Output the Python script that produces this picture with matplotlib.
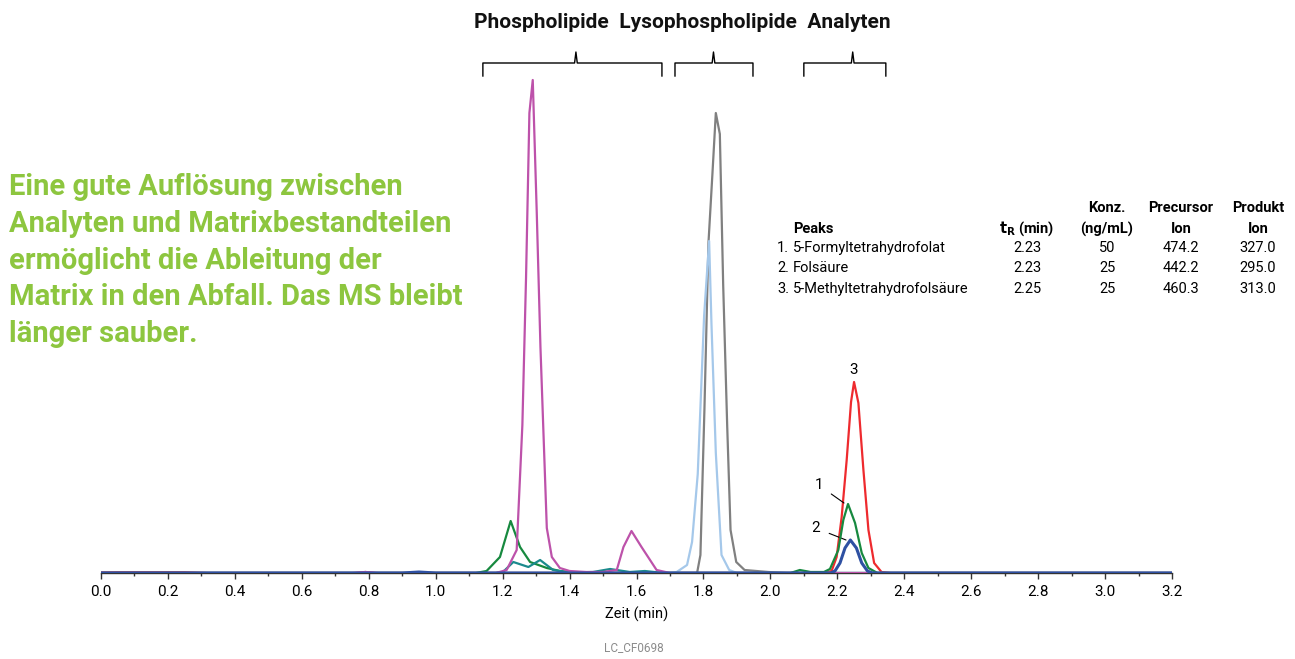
import matplotlib.pyplot as plt

# ==================== Daten (Retentionszeit in min, Intensität relativ) ====================
# Phospholipide (magenta)
t_phospho = [0.00, 0.75, 0.79, 0.83, 0.92, 0.95, 0.98, 1.18, 1.212, 1.242, 1.259, 1.270, 1.280,
             1.290, 1.302, 1.313, 1.332, 1.347, 1.371, 1.40, 1.45, 1.50, 1.541, 1.561,
             1.585, 1.615, 1.660, 1.70, 3.20]
i_phospho = [0, 0, 1, 0, 0, 0.8, 0, 0, 3, 23, 148, 296, 460,
             493, 360, 226, 45, 16, 5, 2, 1, 1, 3, 26,
             42, 26, 3, 0, 0]

# Lysophospholipide (grau)
t_lyso = [0.00, 1.760, 1.781, 1.791, 1.803, 1.815, 1.827, 1.837, 1.849, 1.859, 1.871,
          1.881, 1.898, 1.923, 1.994, 2.05, 3.20]
i_lyso = [0, 0, 0, 18, 164, 330, 400, 460, 439, 288, 147,
          43, 11, 3, 1, 0, 0]

# Lysophospholipide (hellblau)
t_lyso2 = [0.00, 1.700, 1.720, 1.751, 1.766, 1.783, 1.802, 1.817, 1.824, 1.837, 1.854,
           1.877, 1.900, 3.20]
i_lyso2 = [0, 0, 1, 8, 31, 99, 257, 332, 249, 120, 18,
           3, 0, 0]

# Matrix (grün) + Peak 1: 5-Formyltetrahydrofolat
t_green = [0.00, 1.120, 1.152, 1.192, 1.224, 1.252, 1.282, 1.332, 1.371, 1.42, 1.50,
           2.060, 2.088, 2.120, 2.160, 2.178, 2.203, 2.218, 2.232, 2.253, 2.273,
           2.293, 2.320, 3.20]
i_green = [0, 0, 2, 16, 52, 26, 11, 5, 2, 0.5, 0,
           0, 3, 1, 1, 4, 23, 53, 69, 50, 20,
           5, 0, 0]

# Matrix (petrol)
t_teal = [0.00, 1.180, 1.201, 1.232, 1.277, 1.312, 1.351, 1.40, 1.470, 1.521, 1.580,
          1.625, 1.680, 3.20]
i_teal = [0, 0, 1, 11, 6, 13, 3, 0.5, 1, 4, 1,
          2, 0, 0]

# Peak 3: 5-Methyltetrahydrofolsäure (rot)
t_red = [0.00, 0.05, 0.15, 0.25, 0.32, 0.76, 0.79, 0.82, 2.160, 2.183, 2.198, 2.213,
         2.228, 2.241, 2.250, 2.263, 2.278, 2.293, 2.310, 2.332, 2.36, 3.20]
i_red = [0.6, 0.8, 0.8, 0.8, 0, 0, 1, 0, 0, 2, 16, 56,
         113, 171, 191, 170, 103, 43, 10, 1, 0, 0]

# Peak 2: Folsäure (blau)
t_blue = [0.00, 0.90, 0.95, 1.00, 2.180, 2.193, 2.208, 2.223, 2.239, 2.257, 2.273,
          2.290, 2.305, 3.20]
i_blue = [0, 0, 1.0, 0, 0, 2, 10, 25, 33, 25, 10,
          2, 0, 0]

# Klammern über den Peakgruppen (Start, Mitte, Ende in min)
brackets = [(1.141, 1.419, 1.676), (1.715, 1.830, 1.948), (2.100, 2.246, 2.345)]

# Peak-Tabelle
peak_names = ['5-Formyltetrahydrofolat', 'Folsäure', '5-Methyltetrahydrofolsäure']
t_r = ['2.23', '2.23', '2.25']
konz = ['50', '25', '25']
precursor = ['474.2', '442.2', '460.3']
produkt = ['327.0', '295.0', '313.0']

# ==================== Plot ====================
plt.rcParams['font.family'] = ['Roboto', 'DejaVu Sans']
W, H = 1295, 659
fig = plt.figure(figsize=(W / 100, H / 100), dpi=100)
ax = fig.add_axes([101 / W, 86 / H, 1071 / W, 560 / H])

lw = 1.6
ax.plot(t_red, i_red, color='#EE2A2E', lw=lw, zorder=3)
ax.plot(t_lyso, i_lyso, color='#808080', lw=lw, zorder=3)
ax.plot(t_lyso2, i_lyso2, color='#A5C8EA', lw=lw, zorder=4)
ax.plot(t_green, i_green, color='#17893F', lw=lw, zorder=4)
ax.plot(t_teal, i_teal, color='#1A8A8C', lw=lw, zorder=4)
ax.plot(t_phospho, i_phospho, color='#BD52AA', lw=lw, zorder=5)
ax.plot(t_blue, i_blue, color='#2E50A2', lw=2.2, zorder=6)

ax.set_xlim(0, 3.2)
ax.set_ylim(0, 560)
for s in ['left', 'right', 'top']:
    ax.spines[s].set_visible(False)
ax.spines['bottom'].set_color('#333333')
ax.spines['bottom'].set_linewidth(1.0)
ax.set_yticks([])
ax.set_xticks([i * 0.2 for i in range(17)])
ax.set_xticklabels([f'{i * 0.2:.1f}' for i in range(17)], fontsize=11)
ax.set_xticks([i * 0.1 for i in range(33)], minor=True)
ax.tick_params(axis='x', which='major', length=4, width=1, pad=5, color='#333333')
ax.tick_params(axis='x', which='minor', length=2.5, width=1, color='#333333')
ax.set_xlabel('Zeit (min)', fontsize=10.5, labelpad=5)

# Peak-Nummern
ax.text(2.250, 196, '3', ha='center', va='bottom', fontsize=11)
ax.annotate('1', xy=(2.220, 70), xytext=(2.144, 88), ha='center', va='center',
            fontsize=11, arrowprops=dict(arrowstyle='-', color='black', lw=0.8,
                                         shrinkA=5, shrinkB=0))
ax.annotate('2', xy=(2.226, 33), xytext=(2.135, 45), ha='center', va='center',
            fontsize=11, arrowprops=dict(arrowstyle='-', color='black', lw=0.8,
                                         shrinkA=5, shrinkB=0))

# Klammern
for a, m, b in brackets:
    ax.plot([a, a, m - 0.004, m, m + 0.004, b, b], [497, 510, 510, 521, 510, 510, 497],
            color='black', lw=1.0, clip_on=False)

fig.text(682 / W, 1 - 22 / H, 'Phospholipide  Lysophospholipide  Analyten',
         ha='center', va='center', fontsize=15, fontweight='bold', color='#111111')

# Hinweistext
fig.text(9 / W, 1 - 173 / H,
         'Eine gute Auflösung zwischen\nAnalyten und Matrixbestandteilen\n'
         'ermöglicht die Ableitung der\nMatrix in den Abfall. Das MS bleibt\n'
         'länger sauber.',
         ha='left', va='top', fontsize=21, fontweight='bold', color='#8DC63F',
         linespacing=1.4)

# Tabelle
fs = 10.5
y_h1, y_h2 = 1 - 208 / H, 1 - 229 / H
rows_y = [1 - 248 / H, 1 - 268 / H, 1 - 289 / H]
fig.text(793 / W, y_h2, 'Peaks', ha='left', va='center', fontsize=fs, fontweight='bold')
fig.text(1027 / W, y_h2, r'$\mathbf{t_R}$ (min)', ha='center', va='center',
         fontsize=fs, fontweight='bold')
fig.text(1107 / W, y_h1, 'Konz.', ha='center', va='center', fontsize=fs, fontweight='bold')
fig.text(1107 / W, y_h2, '(ng/mL)', ha='center', va='center', fontsize=fs, fontweight='bold')
fig.text(1181 / W, y_h1, 'Precursor', ha='center', va='center', fontsize=fs, fontweight='bold')
fig.text(1181 / W, y_h2, 'Ion', ha='center', va='center', fontsize=fs, fontweight='bold')
fig.text(1258 / W, y_h1, 'Produkt', ha='center', va='center', fontsize=fs, fontweight='bold')
fig.text(1258 / W, y_h2, 'Ion', ha='center', va='center', fontsize=fs, fontweight='bold')
for k, y in enumerate(rows_y):
    fig.text(789 / W, y, f'{k + 1}.', ha='right', va='center', fontsize=fs)
    fig.text(793 / W, y, peak_names[k], ha='left', va='center', fontsize=fs)
    fig.text(1027 / W, y, t_r[k], ha='center', va='center', fontsize=fs)
    fig.text(1107 / W, y, konz[k], ha='center', va='center', fontsize=fs)
    fig.text(1181 / W, y, precursor[k], ha='center', va='center', fontsize=fs)
    fig.text(1258 / W, y, produkt[k], ha='center', va='center', fontsize=fs)

fig.text(634 / W, 1 - 648 / H, 'LC_CF0698', ha='center', va='center',
         fontsize=8.5, color='#8C8C8C')

fig.savefig('out.png', dpi=100)
